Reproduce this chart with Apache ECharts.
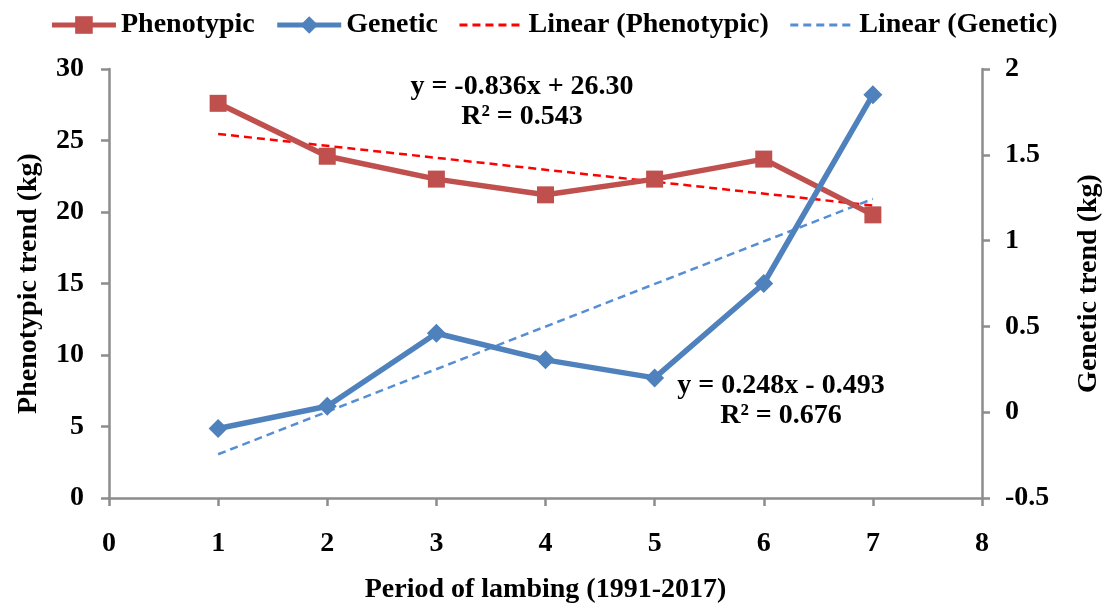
<!DOCTYPE html>
<html>
<head>
<meta charset="utf-8">
<script src="https://cdn.jsdelivr.net/npm/echarts@6/dist/echarts.min.js"></script>
<style>html,body{margin:0;padding:0;background:#fff}#c{width:1107px;height:610px}</style>
</head>
<body>
<div id="c"></div>
<script>
// Data
const periods = [1, 2, 3, 4, 5, 6, 7];
const phenotypic = [27.6, 23.9, 22.3, 21.2, 22.3, 23.7, 19.8];
const genetic = [-0.095, 0.035, 0.46, 0.305, 0.2, 0.75, 1.85];
const trendX = [1, 7];
const phenoTrend = [25.46, 20.45];
const geneticTrend = [-0.245, 1.243];
const xTicks = [0, 8, 1];
const leftTicks = [0, 30, 5];
const rightTicks = [-0.5, 2, 0.5];
const eqPheno = ['y = -0.836x + 26.30', 'R² = 0.543'];
const eqGen = ['y = 0.248x - 0.493', 'R² = 0.676'];

const FONT = '"Liberation Serif", "Times New Roman", serif';
const axisGray = '#8c8c8c';
const FS = 28;
const pair = (xs, ys) => xs.map((x, i) => [x, ys[i]]);
const txt = (extra) => Object.assign({ fontFamily: FONT, fontWeight: 'bold', fontSize: FS, color: '#000' }, extra || {});

const chart = echarts.init(document.getElementById('c'));
chart.setOption({
  animation: false,
  textStyle: { fontFamily: FONT, fontWeight: 'bold', color: '#000' },
  grid: { left: 109, right: 125, top: 69, bottom: 112, containLabel: false, outerBoundsMode: 'none' },
  legend: {
    top: 6, left: 'center', itemWidth: 64, itemHeight: 22, itemGap: 20,
    textStyle: txt(),
    data: [
      { name: 'Phenotypic', lineStyle: { width: 5 } },
      { name: 'Genetic', lineStyle: { width: 5 } },
      { name: 'Linear (Phenotypic)', lineStyle: { width: 3 }, itemStyle: { opacity: 0 } },
      { name: 'Linear (Genetic)', lineStyle: { width: 3 }, itemStyle: { opacity: 0 } }
    ]
  },
  xAxis: {
    type: 'value', min: xTicks[0], max: xTicks[1], interval: xTicks[2],
    name: 'Period of lambing (1991-2017)', nameLocation: 'middle', nameGap: 78,
    nameTextStyle: txt(),
    axisLine: { onZero: false, lineStyle: { color: axisGray, width: 2.5 } },
    axisTick: { show: true, length: 8, inside: false, lineStyle: { color: axisGray, width: 2.5 } },
    axisLabel: txt({ margin: 32 }),
    splitLine: { show: false }
  },
  yAxis: [{
    type: 'value', min: leftTicks[0], max: leftTicks[1], interval: leftTicks[2],
    position: 'left',
    name: 'Phenotypic trend (kg)', nameLocation: 'middle', nameGap: 66, nameRotate: 90,
    nameTextStyle: txt(),
    axisLine: { show: true, lineStyle: { color: axisGray, width: 2.5 } },
    axisTick: { show: true, length: 8, lineStyle: { color: axisGray, width: 2.5 } },
    axisLabel: txt({ margin: 25 }),
    splitLine: { show: false }
  }, {
    type: 'value', min: rightTicks[0], max: rightTicks[1], interval: rightTicks[2],
    position: 'right', alignTicks: false,
    name: 'Genetic trend (kg)', nameLocation: 'middle', nameGap: 93, nameRotate: 90,
    nameTextStyle: txt(),
    axisLine: { show: true, lineStyle: { color: axisGray, width: 2.5 } },
    axisTick: { show: true, length: 8, lineStyle: { color: axisGray, width: 2.5 } },
    axisLabel: txt({ margin: 23, formatter: v => String(v) }),
    splitLine: { show: false }
  }],
  series: [{
    name: 'Phenotypic', type: 'line', yAxisIndex: 0, data: pair(periods, phenotypic),
    symbol: 'rect', symbolSize: 17,
    lineStyle: { color: '#C0504D', width: 5.5 }, itemStyle: { color: '#C0504D' }, z: 3
  }, {
    name: 'Genetic', type: 'line', yAxisIndex: 1, data: pair(periods, genetic),
    symbol: 'diamond', symbolSize: 19,
    lineStyle: { color: '#4F81BD', width: 5.5 }, itemStyle: { color: '#4F81BD' }, z: 4
  }, {
    name: 'Linear (Phenotypic)', type: 'line', yAxisIndex: 0, data: pair(trendX, phenoTrend),
    symbol: 'none', lineStyle: { color: '#FF0000', width: 2.5, type: [8, 5] },
    itemStyle: { color: '#FF0000' }, z: 2
  }, {
    name: 'Linear (Genetic)', type: 'line', yAxisIndex: 1, data: pair(trendX, geneticTrend),
    symbol: 'none', lineStyle: { color: '#558ED5', width: 2.5, type: [8, 5] },
    itemStyle: { color: '#558ED5' }, z: 2
  }],
  graphic: [
    { type: 'text', x: 522, y: 87, style: { text: eqPheno[0], align: 'center', verticalAlign: 'middle', font: 'bold 28px ' + FONT, fill: '#000' } },
    { type: 'text', x: 522, y: 117, style: { text: eqPheno[1], align: 'center', verticalAlign: 'middle', font: 'bold 28px ' + FONT, fill: '#000' } },
    { type: 'text', x: 781, y: 386, style: { text: eqGen[0], align: 'center', verticalAlign: 'middle', font: 'bold 28px ' + FONT, fill: '#000' } },
    { type: 'text', x: 781, y: 416, style: { text: eqGen[1], align: 'center', verticalAlign: 'middle', font: 'bold 28px ' + FONT, fill: '#000' } }
  ]
});
</script>
</body>
</html>
